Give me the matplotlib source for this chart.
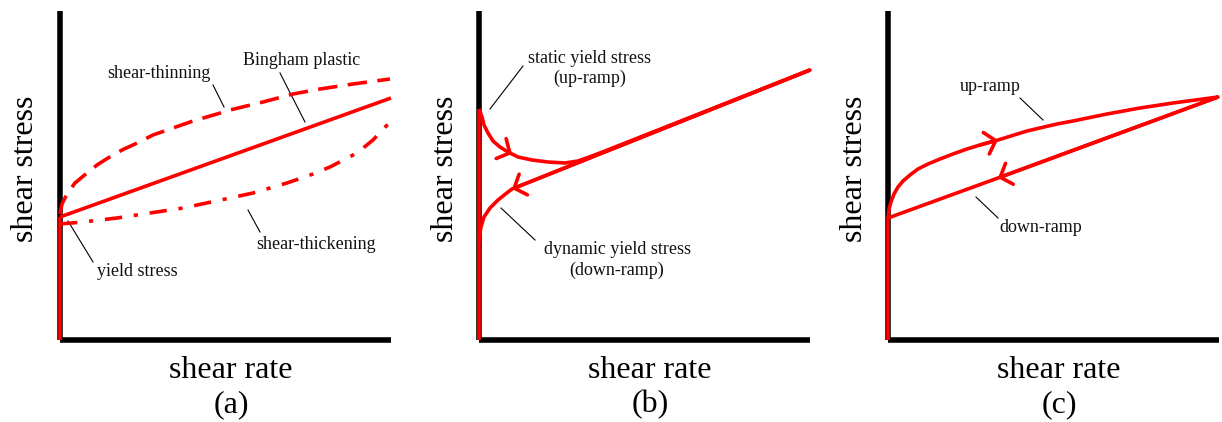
import matplotlib
matplotlib.use("Agg")
import matplotlib.pyplot as plt

plt.rcParams['font.family'] = ['Liberation Serif', 'DejaVu Serif']
plt.rcParams['lines.scale_dashes'] = False

# ---------------- data (arbitrary units: shear rate 0-331, shear stress 0-329) ----------
# panel (a)
a_yield_rate = [0, 0]
a_yield_stress = [0, 123]
a_bingham_rate = [0, 331]
a_bingham_stress = [123, 242]
a_thin_rate = [0, 2, 7, 15, 27, 37, 48, 62, 75, 93, 113, 133, 157, 170, 203, 233, 260, 293, 330]
a_thin_stress = [126, 136, 146, 157, 167, 175, 182, 190, 196, 205, 212, 219, 226, 230, 238, 246, 251, 256, 261]
a_thick_rate = [0, 23, 57, 90, 123, 170, 193, 227, 253, 270, 297, 313, 330]
a_thick_stress = [116, 118, 122, 127, 132, 142, 147, 157, 166, 173, 187, 200, 218]

# panel (b)
b_vert_rate = [0, 0]
b_vert_stress = [0, 231]
b_up_rate = [0, 3, 5, 9, 14, 21, 29, 33, 39, 53, 69, 86, 99, 113, 126, 331]
b_up_stress = [231, 223, 215, 207, 199, 193, 188, 186, 183, 180, 178, 177, 179, 184, 189, 270]
b_down_rate = [331, 33, 29, 19, 11, 5, 2, 0.5, 0]
b_down_stress = [270, 151, 148, 140, 132, 123, 113, 104, 98]

# panel (c)
c_vert_rate = [0, 0]
c_vert_stress = [0, 122]
c_up_rate = [0, 1, 3, 6, 10, 15, 22, 30, 40, 52, 65, 79, 92, 110, 139, 169, 185, 219, 252, 285, 330]
c_up_stress = [122, 131, 138, 146, 153, 159, 165, 171, 176, 181, 186, 191, 195, 200, 209, 216, 219, 226, 232, 237, 243]
c_down_rate = [330, 110, 0]
c_down_stress = [243, 162, 122]

# arrow positions (index of tip point in curve arrays)
b_up_arrow_idx = 7
b_down_arrow_idx = 1
c_up_arrow_idx = 13
c_down_arrow_idx = 1

xlabel = "shear rate"
ylabel = "shear stress"
panel_tags = ["(a)", "(b)", "(c)"]

# ---------------- figure ----------------
W, H = 1222, 422
fig = plt.figure(figsize=(W / 100, H / 100), dpi=100)

RED = '#ff0000'
LW = 2.6
AXLW = 4.0
ANN = 13
BIG = 23


def make_axes(left_px):
    ax = fig.add_axes([left_px / W, 82 / H, 331 / W, 329 / H])
    ax.set_xlim(0, 331)
    ax.set_ylim(0, 329)
    ax.patch.set_visible(False)
    for s in ['top', 'right']:
        ax.spines[s].set_visible(False)
    for s in ['left', 'bottom']:
        ax.spines[s].set_linewidth(AXLW)
        ax.spines[s].set_color('black')
        ax.spines[s].set_capstyle('butt')
    ax.set_xticks([])
    ax.set_yticks([])
    return ax


def red(ax, x, y, **kw):
    ax.plot(x, y, color=RED, lw=LW, clip_on=False, zorder=4, solid_capstyle='butt',
            solid_joinstyle='round', **kw)


def arrow(ax, xs, ys, i, back):
    ax.annotate('', xy=(xs[i], ys[i]), xytext=(xs[i - back], ys[i - back]),
                arrowprops=dict(arrowstyle='->,head_length=0.7,head_width=0.8',
                                color=RED, lw=LW, shrinkA=0, shrinkB=0,
                                mutation_scale=10), zorder=5, annotation_clip=False)


def leader(ax, p0, p1):
    ax.plot([p0[0], p1[0]], [p0[1], p1[1]], color='black', lw=0.8, clip_on=False, zorder=3)


def label(ax, x, y, s):
    ax.text(x, y, s, fontsize=ANN, ha='center', va='baseline', color='#111111')


# ---- panel (a)
axa = make_axes(60)
red(axa, a_yield_rate, a_yield_stress)
red(axa, a_bingham_rate, a_bingham_stress)
l1, = axa.plot(a_thin_rate, a_thin_stress, color=RED, lw=LW, clip_on=False, zorder=4)
l1.set_dashes([14, 7.5])
l2, = axa.plot(a_thick_rate, a_thick_stress, color=RED, lw=LW, clip_on=False, zorder=4)
l2.set_dashes([12.5, 8.5, 3, 8.5])
label(axa, 99, 262, "shear-thinning")
label(axa, 242, 275, "Bingham plastic")
label(axa, 256, 91, "shear-thickening")
label(axa, 77, 64, "yield stress")
leader(axa, (153, 255), (164, 233))
leader(axa, (220, 267), (245, 218))
leader(axa, (188, 130), (200, 108))
leader(axa, (8, 119), (33, 78))

# ---- panel (b)
axb = make_axes(479)
red(axb, b_vert_rate, b_vert_stress)
red(axb, b_up_rate, b_up_stress)
red(axb, b_down_rate, b_down_stress)
arrow(axb, b_up_rate, b_up_stress, b_up_arrow_idx, 1)
arrow(axb, b_down_rate, b_down_stress, b_down_arrow_idx, 1)
label(axb, 110, 277, "static yield stress")
label(axb, 111, 257, "(up-ramp)")
label(axb, 138, 86, "dynamic yield stress")
label(axb, 138, 65, "(down-ramp)")
leader(axb, (44, 274), (11, 231))
leader(axb, (22, 132), (56, 100))

# ---- panel (c)
axc = make_axes(888)
red(axc, c_vert_rate, c_vert_stress)
red(axc, c_up_rate, c_up_stress)
red(axc, c_down_rate, c_down_stress)
arrow(axc, c_up_rate, c_up_stress, c_up_arrow_idx, 1)
arrow(axc, c_down_rate, c_down_stress, c_down_arrow_idx, 1)
label(axc, 102, 249, "up-ramp")
label(axc, 153, 108, "down-ramp")
leader(axc, (132, 242), (155, 220))
leader(axc, (88, 143), (110, 122))

# ---- axis labels & panel tags
for xl, yl, tag in [(231, 33, panel_tags[0]), (650, 453, panel_tags[1]), (1059, 862, panel_tags[2])]:
    fig.text(xl / W, 1 - 378 / H, xlabel, fontsize=BIG, ha='center', va='baseline')
    fig.text(xl / W, 1 - 412 / H, tag, fontsize=BIG, ha='center', va='baseline')
    fig.text(yl / W, 1 - 169 / H, ylabel, fontsize=BIG, ha='center', va='baseline',
             rotation=90, rotation_mode='anchor')

fig.savefig("out.png", dpi=100)
